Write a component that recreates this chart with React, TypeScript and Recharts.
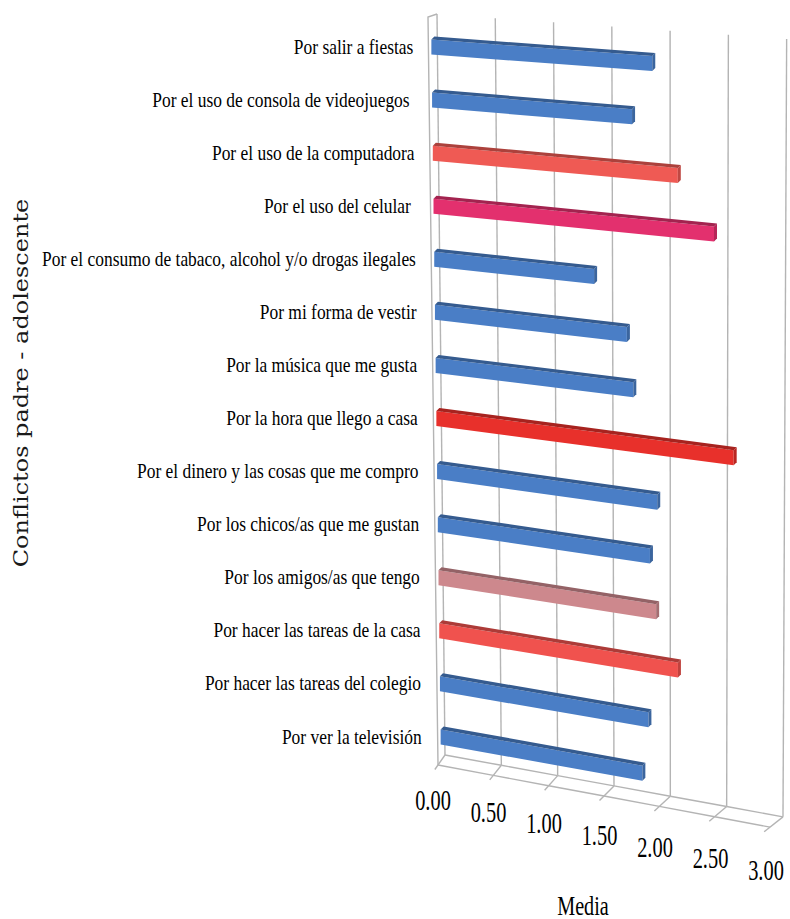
import React from "react";
import { BarChart, Bar, XAxis, YAxis, CartesianGrid, Cell, Label } from "recharts";

const categories = [
  "Por salir a fiestas",
  "Por el uso de consola de videojuegos ",
  "Por el uso de la computadora",
  "Por el uso del celular ",
  "Por el consumo de tabaco, alcohol y/o drogas ilegales",
  "Por mi forma de vestir",
  "Por la música que me gusta",
  "Por la hora que llego a casa",
  "Por el dinero y las cosas que me compro",
  "Por los chicos/as que me gustan",
  "Por los amigos/as que tengo",
  "Por hacer las tareas de la casa",
  "Por hacer las tareas del colegio",
  "Por ver la televisión",
];

const medias = [1.85, 1.68, 2.08, 2.4, 1.36, 1.65, 1.71, 2.6, 1.93, 1.87, 1.93, 2.13, 1.87, 1.82];

const barColors = [
  "#4a7ec6",
  "#4a7ec6",
  "#ef5a54",
  "#e3306e",
  "#4a7ec6",
  "#4a7ec6",
  "#4a7ec6",
  "#e8302b",
  "#4a7ec6",
  "#4a7ec6",
  "#cd888d",
  "#f0524e",
  "#4a7ec6",
  "#4a7ec6",
];

const xTicks = [0, 0.5, 1, 1.5, 2, 2.5, 3];

const data = categories.map((name, i) => ({ name, media: medias[i] }));

// chart frame
const W = 790;
const H = 919;
const LEFT = 437;
const TOP = 20;
const RIGHT = 770;
const BOTTOM = 763;
const STEP = (RIGHT - LEFT) / (xTicks.length - 1);
const GRID = "#b4b4b4";
const serif = "Liberation Serif";

const darken = (hex: string, f: number) => {
  const n = parseInt(hex.slice(1), 16);
  const r = Math.round(((n >> 16) & 255) * f);
  const g = Math.round(((n >> 8) & 255) * f);
  const b = Math.round((n & 255) * f);
  return `rgb(${r},${g},${b})`;
};

// perspective helpers (w = pixel distance from value 0 on the flat scale)
const backPt = (w: number) => {
  const x = 445 + w * 1.015;
  return [x, 755 + 0.183 * (x - 445)];
};
const frontPt = (w: number) => {
  const x = 438 + w * 0.997;
  return [x, 765 + 0.187 * (x - 438)];
};

const Bar3D = (props: any) => {
  const { x, y, width, height, fill } = props;
  const yc = y + height / 2;
  const t = (yc - TOP) / (BOTTOM - TOP);
  const s = 0.071 + 0.113 * t;
  const sx = x - 6 + 10 * t;
  const ex = x + 4 * t + (width * (116.5 - 6 * t)) / 111;
  const len = ex - sx;
  const h = 7.5;
  const d = 3;
  const dy = len * s;
  const front = `${sx},${yc - h} ${ex},${yc - h + dy} ${ex},${yc + h + dy} ${sx},${yc + h}`;
  const top = `${sx + d},${yc - h - d} ${ex + d},${yc - h - d + dy} ${ex},${yc - h + dy} ${sx},${yc - h}`;
  const side = `${ex},${yc - h + dy} ${ex + d},${yc - h - d + dy} ${ex + d},${yc + h - d + dy} ${ex},${yc + h + dy}`;
  return (
    <g>
      <polygon points={front} fill={fill} />
      <polygon points={top} fill={darken(fill, 0.72)} />
      <polygon points={side} fill={darken(fill, 0.8)} />
    </g>
  );
};

const YTick = (props: any) => {
  const { y, payload } = props;
  const t = (y - TOP) / (BOTTOM - TOP);
  const endX = 413 + 9 * t;
  return (
    <text
      transform={`translate(${endX},${y}) scale(0.83,1)`}
      textAnchor="end"
      dominantBaseline="central"
      fill="#000"
      style={{ whiteSpace: "pre", fontFamily: serif, fontSize: 21 }}
    >
      {payload.value}
    </text>
  );
};

const XTick = (props: any) => {
  const { x, payload, index } = props;
  const w = x - LEFT;
  const [bx, by] = backPt(w);
  const [fx, fy] = frontPt(w);
  const last = index === xTicks.length - 1;
  const [nbx, nby] = backPt(w + STEP);
  const [nfx, nfy] = frontPt(w + STEP);
  return (
    <g>
      <line x1={bx} y1={by} x2={fx + (fx - bx) * 0.45} y2={fy + (fy - by) * 0.45} stroke={GRID} strokeWidth={1.4} />
      {!last && <line x1={bx} y1={by} x2={nbx} y2={nby} stroke={GRID} strokeWidth={1.4} />}
      {!last && <line x1={fx} y1={fy} x2={nfx} y2={nfy} stroke={GRID} strokeWidth={1.4} />}
      {index === 0 && (
        <polyline points={`${fx},${fy} 428,17 437,14`} fill="none" stroke={GRID} strokeWidth={1.4} />
      )}
      <text
        transform={`translate(${x - 4},${800 + 0.21 * w}) scale(0.68,1)`}
        textAnchor="middle"
        dominantBaseline="central"
        fill="#000"
        style={{ fontFamily: serif, fontSize: 30 }}
      >
        {payload.value.toFixed(2)}
      </text>
    </g>
  );
};

const gridLine = (props: any) => {
  const w = props.x1 - LEFT;
  const [bx, by] = backPt(w);
  return (
    <line
      key={`g-${props.x1}`}
      x1={437 + w * 1.05}
      y1={14 + 0.075 * w}
      x2={bx}
      y2={by}
      stroke={GRID}
      strokeWidth={1.4}
    />
  );
};

export default function App() {
  return (
    <div style={{ position: "absolute", left: 0, top: 0, background: "#fff" }}>
      <BarChart
        width={W}
        height={H}
        data={data}
        layout="vertical"
        margin={{ top: TOP, right: W - RIGHT, bottom: 6, left: 0 }}
      >
        <CartesianGrid horizontal={false} vertical={gridLine} />
        <XAxis
          type="number"
          domain={[0, 3]}
          ticks={xTicks}
          interval={0}
          axisLine={false}
          tickLine={false}
          height={H - 6 - BOTTOM}
          tick={XTick}
        >
          <Label
            content={() => (
              <text
                transform="translate(583,905) scale(0.72,1)"
                textAnchor="middle"
                dominantBaseline="central"
                fill="#000"
                style={{ fontFamily: serif, fontSize: 28 }}
              >
                Media
              </text>
            )}
          />
        </XAxis>
        <YAxis
          type="category"
          dataKey="name"
          width={LEFT}
          interval={0}
          axisLine={false}
          tickLine={false}
          tick={YTick}
        >
          <Label
            content={() => (
              <text
                transform="translate(21,383) rotate(-90) scale(1.2,1)"
                textAnchor="middle"
                dominantBaseline="central"
                fill="#1a1a1a"
                style={{ fontFamily: "DejaVu Serif", fontSize: 20 }}
              >
                Conflictos padre - adolescente
              </text>
            )}
          />
        </YAxis>
        <Bar dataKey="media" barSize={16} isAnimationActive={false} shape={Bar3D}>
          {barColors.map((c, i) => (
            <Cell key={i} fill={c} />
          ))}
        </Bar>
      </BarChart>
    </div>
  );
}
